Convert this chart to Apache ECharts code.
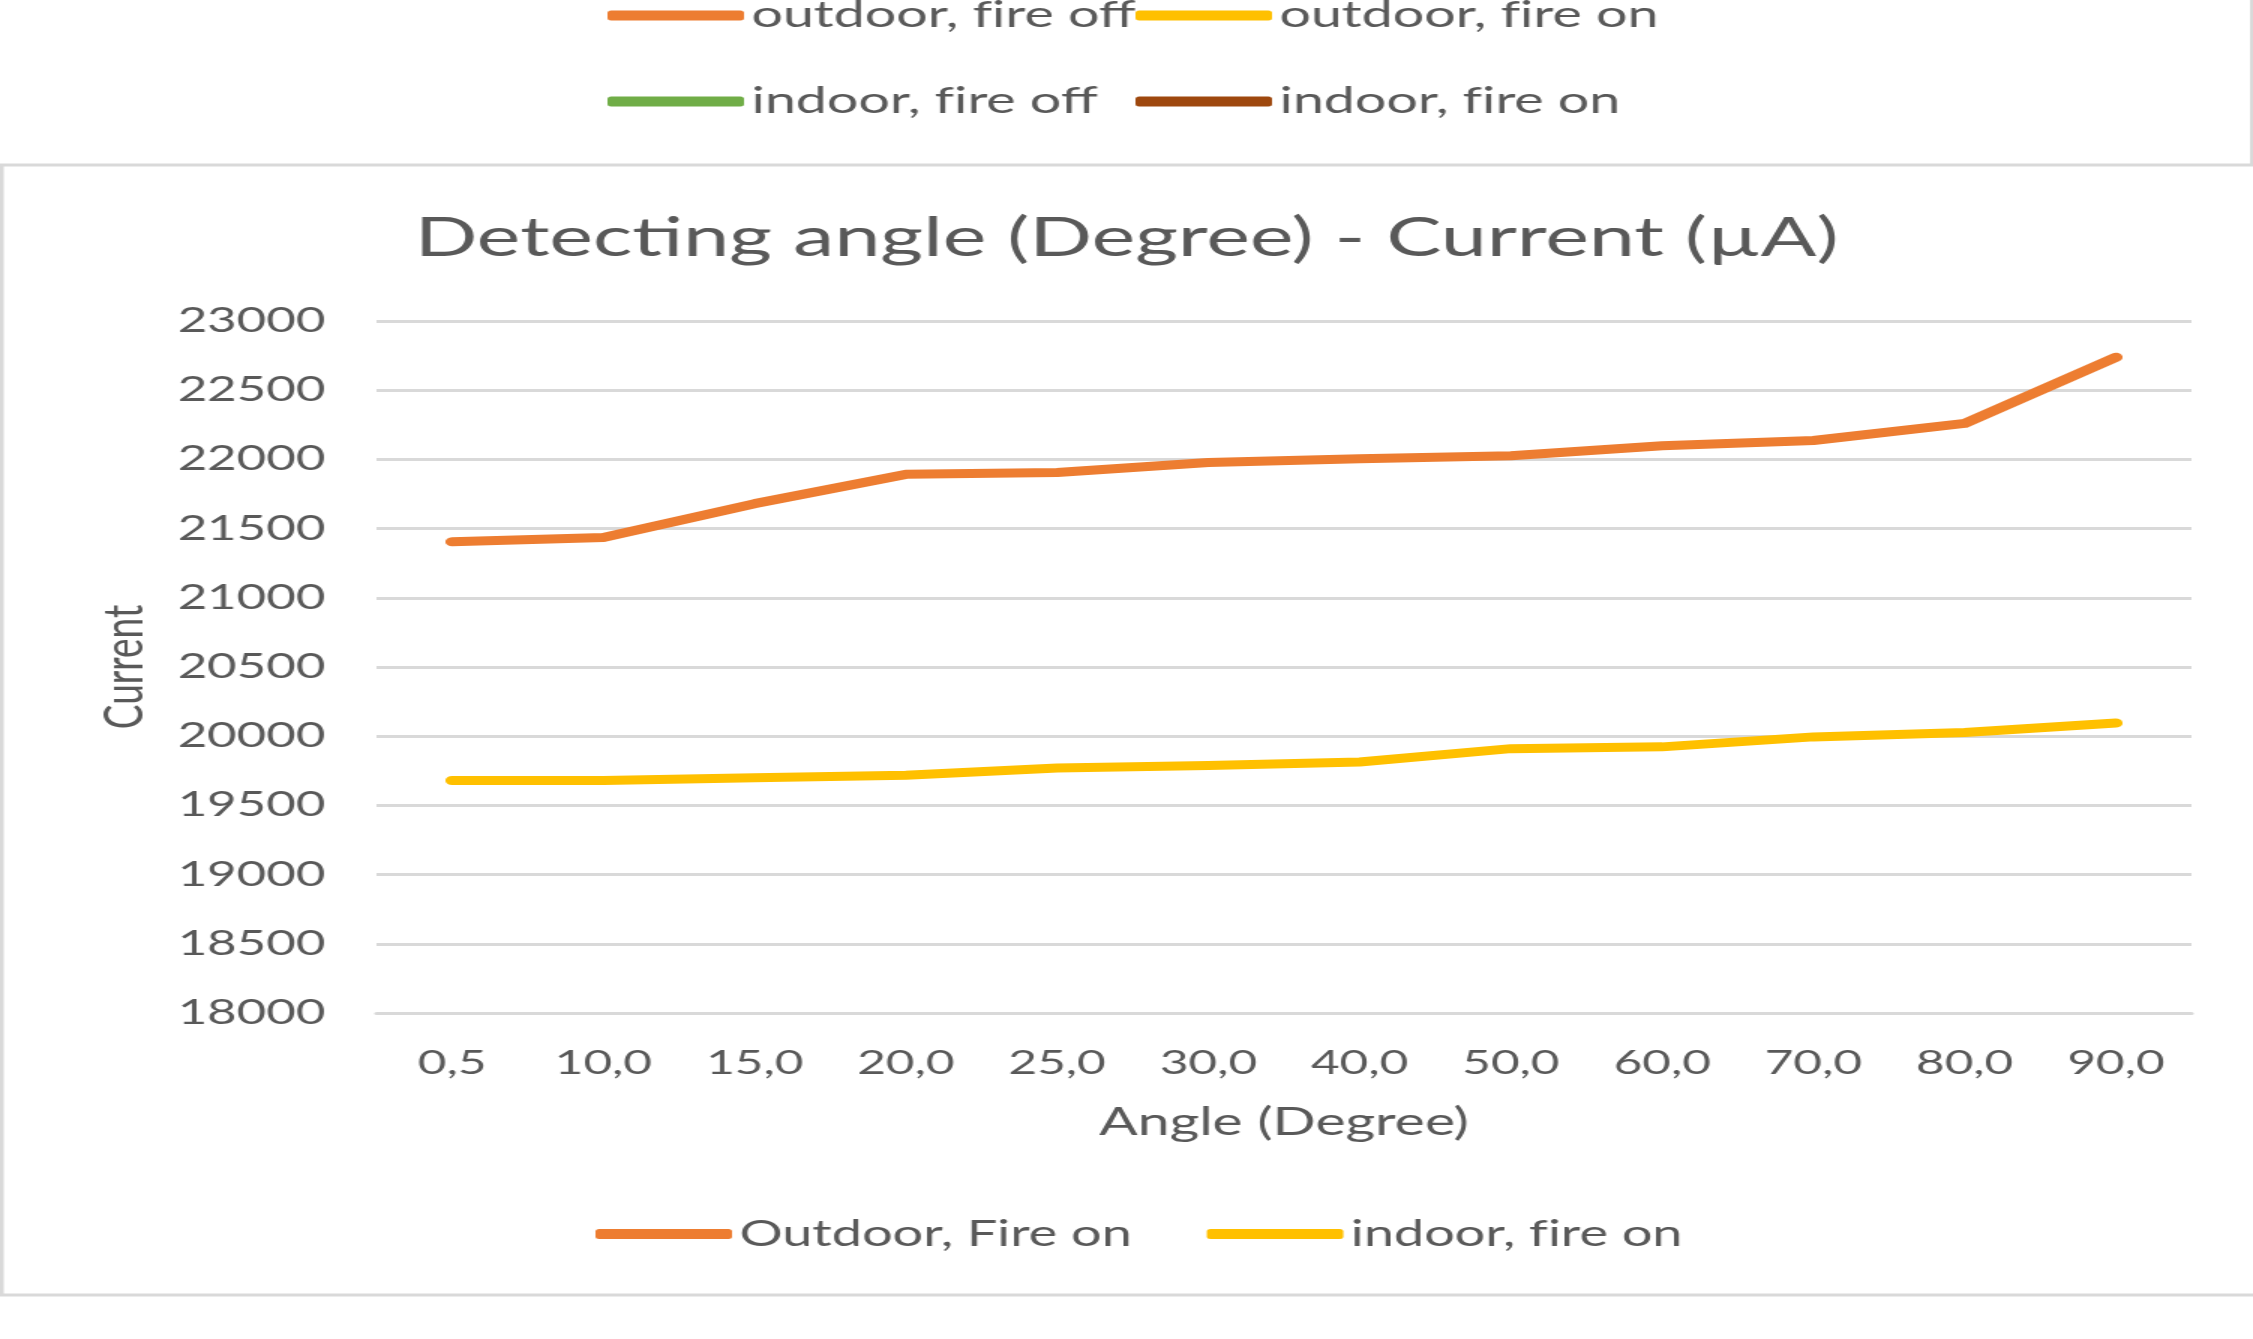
<!DOCTYPE html>
<html>
<head>
<meta charset="utf-8">
<title>Detecting angle - Current</title>
<script src="https://cdn.jsdelivr.net/npm/echarts@6/dist/echarts.min.js"></script>
<style>
  html, body { margin: 0; padding: 0; background: #fff; overflow: hidden; }
  /* the source picture is stretched sideways, so draw narrow and widen it */
  #main {
    width: 1502px;
    height: 1339px;
    transform: scaleX(1.5);
    transform-origin: 0 0;
  }
</style>
</head>
<body>
<div id="main"></div>
<script>
const angles = ['0,5', '10,0', '15,0', '20,0', '25,0', '30,0', '40,0', '50,0', '60,0', '70,0', '80,0', '90,0']
const outdoorFireOn = [21405, 21435, 21680, 21892, 21905, 21977, 22005, 22026, 22098, 22137, 22260, 22738]
const indoorFireOn = [19680, 19680, 19699, 19718, 19770, 19788, 19814, 19910, 19923, 19995, 20026, 20095]

const textColor = '#595959'
const gridColor = '#D9D9D9'
const font = 'Lato'

const chart = echarts.init(document.getElementById('main'))

// Lato joins "fi", the original does not
const noLigature = name => name.replace(/fi/g, 'f\u200ci')

// series for the legend of the chart above (cut off in the picture), no data
function emptySeries(name, color) {
  return { name: name, type: 'line', data: [], color: color, symbol: 'none' }
}

function lineSeries(name, data, color) {
  return {
    name: name,
    type: 'line',
    data: data,
    color: color,
    symbol: 'none',
    lineStyle: { width: 9, color: color, cap: 'round', join: 'round' }
  }
}

const topLegend = {
  orient: 'vertical',
  top: -3,
  padding: 0,
  itemWidth: 91,
  itemHeight: 10,
  itemGap: 49,
  icon: 'roundRect',
  selectedMode: false,
  formatter: noLigature,
  textStyle: { fontFamily: font, fontSize: 37, color: textColor, lineHeight: 32 }
}

chart.setOption({
  animation: false,
  backgroundColor: '#fff',
  title: {
    text: 'Detecting angle (Degree) - Current (µA)',
    left: 'center',
    top: 206,
    textStyle: { fontFamily: font, fontSize: 55, fontWeight: 'normal', color: textColor, lineHeight: 55 }
  },
  legend: [
    Object.assign({}, topLegend, {
      left: 405,
      data: [
        { name: 'outdoor, fire off', itemStyle: { color: '#ED7D31' } },
        { name: 'indoor, fire off', itemStyle: { color: '#70AD47' } }
      ]
    }),
    Object.assign({}, topLegend, {
      left: 757,
      data: [
        { name: 'outdoor, fire on', itemStyle: { color: '#FFC000' } },
        { name: 'indoor, fire on', itemStyle: { color: '#9E480E' } }
      ]
    }),
    {
      left: 397,
      top: 1216,
      padding: 0,
      itemWidth: 91,
      itemHeight: 10,
      itemGap: 50,
      icon: 'roundRect',
      selectedMode: false,
      formatter: noLigature,
      data: ['Outdoor, Fire on', 'indoor, fire on'],
      textStyle: { fontFamily: font, fontSize: 36, color: textColor, lineHeight: 34 }
    }
  ],
  grid: { left: 251, right: 41, top: 321, bottom: 326 },
  xAxis: {
    type: 'category',
    data: angles,
    boundaryGap: true,
    name: 'Angle (Degree)',
    nameLocation: 'middle',
    nameGap: 91,
    nameTextStyle: { fontFamily: font, fontSize: 38, color: textColor, lineHeight: 38 },
    axisLine: { lineStyle: { color: gridColor, width: 3 } },
    axisTick: { show: false },
    axisLabel: { fontFamily: font, fontSize: 33, color: textColor, margin: 34, lineHeight: 33, interval: 0 }
  },
  yAxis: {
    type: 'value',
    min: 18000,
    max: 23000,
    interval: 500,
    name: 'Current',
    nameLocation: 'middle',
    nameRotate: 90,
    nameGap: 149,
    nameTextStyle: { fontFamily: font, fontSize: 37, color: textColor, lineHeight: 37 },
    axisLine: { show: false },
    axisTick: { show: false },
    axisLabel: { fontFamily: font, fontSize: 34, color: textColor, margin: 34, formatter: v => String(v) },
    splitLine: { lineStyle: { color: gridColor, width: 3 } }
  },
  series: [
    lineSeries('Outdoor, Fire on', outdoorFireOn, '#ED7D31'),
    lineSeries('indoor, fire on', indoorFireOn, '#FFC000'),
    emptySeries('outdoor, fire off', '#ED7D31'),
    emptySeries('outdoor, fire on', '#FFC000'),
    emptySeries('indoor, fire off', '#70AD47')
  ],
  // chart frames
  graphic: [
    {
      type: 'rect',
      shape: { x: 1, y: 165, width: 1600, height: 1130 },
      style: { fill: null, stroke: gridColor, lineWidth: 3 },
      silent: true
    },
    {
      type: 'line',
      shape: { x1: 1501, y1: 0, x2: 1501, y2: 165 },
      style: { stroke: gridColor, lineWidth: 2 },
      silent: true
    }
  ]
})
</script>
</body>
</html>
